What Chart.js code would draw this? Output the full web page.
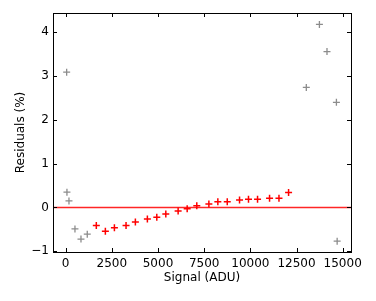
<!DOCTYPE html>
<html>
<head>
<meta charset="utf-8">
<script src="https://cdn.jsdelivr.net/npm/chart.js@4/dist/chart.umd.min.js"></script>
<style>
  html, body { margin: 0; padding: 0; background: #fff; }
  #wrap { width: 376px; height: 301px; position: relative; }
</style>
</head>
<body>
<div id="wrap"><canvas id="chart"></canvas></div>
<script>
// excluded points (gray)
const grayX = [54, 70, 180, 504, 830, 1170, 13030, 13740, 14150, 14660, 14700];
const grayY = [3.09, 0.35, 0.15, -0.49, -0.72, -0.61, 2.74, 4.18, 3.56, 2.40, -0.77];

// fitted points (red)
const redX = [1660, 2150, 2640, 3270, 3775, 4425, 4935, 5423, 6090, 6580, 7100,
              7755, 8240, 8750, 9415, 9900, 10390, 11040, 11550, 12070];
const redY = [-0.41, -0.54, -0.46, -0.41, -0.33, -0.26, -0.22, -0.15, -0.08, -0.03, 0.04,
              0.08, 0.13, 0.13, 0.17, 0.19, 0.19, 0.21, 0.21, 0.34];

const xTicks = [0, 2500, 5000, 7500, 10000, 12500, 15000];
const yTicks = [-1, 0, 1, 2, 3, 4];
const xMin = -685, xMax = 15450;
const yMin = -1.016, yMax = 4.44;
const zeroLevel = 0;

const font = { family: 'DejaVu Sans', size: 12 };

function pts(xs, ys) { return xs.map((x, i) => ({ x: x, y: ys[i] })); }

// matplotlib style: ticks pointing inward on all four sides + top/right spines
const frameTicks = {
    id: 'frameTicks',
    afterDraw(chart) {
        const ctx = chart.ctx, a = chart.chartArea;
        const xs = chart.scales.x, ys = chart.scales.y;
        const len = 4;
        ctx.save();
        ctx.strokeStyle = '#000';
        ctx.lineWidth = 1;
        ctx.beginPath();
        xTicks.forEach(v => {
            const px = Math.round(xs.getPixelForValue(v)) + 0.5;
            ctx.moveTo(px, a.bottom); ctx.lineTo(px, a.bottom - len);
            ctx.moveTo(px, a.top); ctx.lineTo(px, a.top + len);
        });
        yTicks.forEach(v => {
            const py = Math.round(ys.getPixelForValue(v)) + 0.5;
            ctx.moveTo(a.left, py); ctx.lineTo(a.left + len, py);
            ctx.moveTo(a.right, py); ctx.lineTo(a.right - len, py);
        });
        ctx.stroke();
        ctx.strokeRect(a.left + 0.5, a.top + 0.5, a.right - a.left, a.bottom - a.top);
        ctx.restore();
    }
};

new Chart(document.getElementById('chart'), {
    type: 'scatter',
    data: {
        datasets: [
            {
                type: 'line',
                data: [{ x: xMin, y: zeroLevel }, { x: xMax, y: zeroLevel }],
                borderColor: 'rgba(255, 0, 0, 0.85)',
                borderWidth: 1.5,
                pointRadius: 0,
                order: 3
            },
            {
                data: pts(grayX, grayY),
                pointStyle: 'cross',
                pointRadius: 3.5,
                borderColor: '#8c8c8c',
                borderWidth: 1.3,
                order: 2
            },
            {
                data: pts(redX, redY),
                pointStyle: 'cross',
                pointRadius: 3.5,
                borderColor: '#ff0000',
                borderWidth: 1.5,
                order: 1
            }
        ]
    },
    options: {
        responsive: true,
        maintainAspectRatio: false,
        animation: false,
        layout: { padding: { top: 13, right: 25, left: 0, bottom: 0 } },
        plugins: { legend: { display: false }, tooltip: { enabled: false } },
        scales: {
            x: {
                type: 'linear',
                min: xMin, max: xMax,
                grid: { display: false, drawTicks: false },
                border: { display: false },
                afterBuildTicks: s => { s.ticks = xTicks.map(v => ({ value: v })); },
                afterFit: s => { s.height = 49; },
                ticks: { font: font, color: '#000', padding: 5, maxRotation: 0, autoSkip: false,
                         callback: v => String(v) },
                title: { display: true, text: 'Signal (ADU)', font: font, color: '#000', padding: { top: 0, bottom: 16 } }
            },
            y: {
                type: 'linear',
                min: yMin, max: yMax,
                grid: { display: false, drawTicks: false },
                border: { display: false },
                afterBuildTicks: s => { s.ticks = yTicks.map(v => ({ value: v })); },
                afterFit: s => { s.width = 53; },
                ticks: { font: font, color: '#000', padding: 4, autoSkip: false,
                         callback: v => String(v).replace('-', '\u2212') },
                title: { display: true, text: 'Residuals (%)', font: font, color: '#000', padding: { top: 14, bottom: 0 } }
            }
        }
    },
    plugins: [frameTicks]
});
</script>
</body>
</html>
